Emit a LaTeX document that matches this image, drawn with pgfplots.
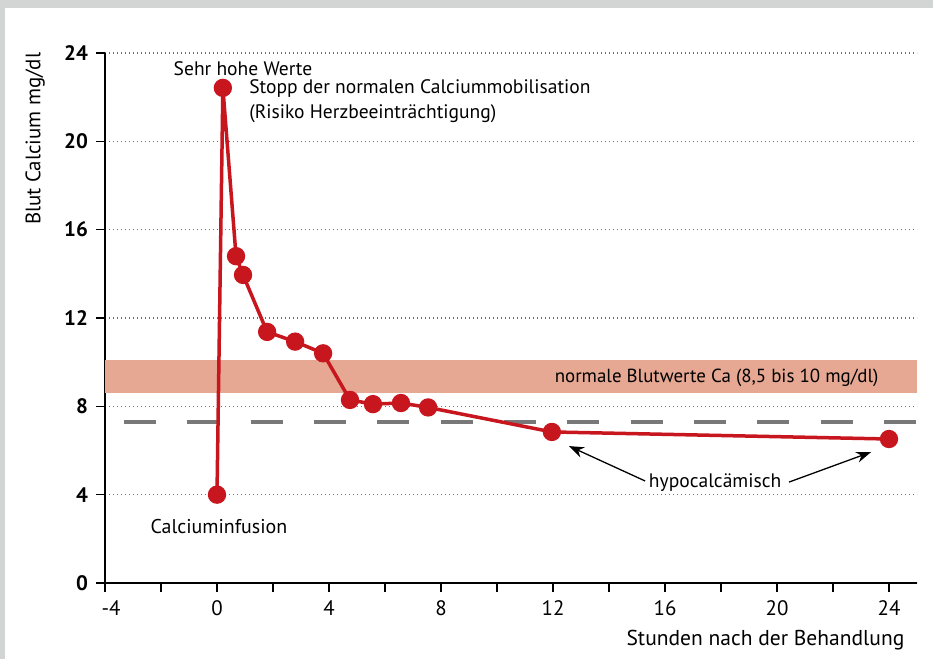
\documentclass[border=0pt]{standalone}
\usepackage{pgfplots}
\pgfplotsset{compat=1.18}
\usepackage{fontspec}
\setmainfont{PT Sans}
\usetikzlibrary{arrows.meta}
\definecolor{cared}{HTML}{C8161E}
\definecolor{band}{HTML}{E6A892}
\definecolor{frame}{HTML}{D3D5D4}
\definecolor{dashgray}{HTML}{787878}
\definecolor{gridgray}{HTML}{707070}
\tikzset{ann/.style={font=\fontsize{9.8}{11}\selectfont, inner sep=0pt}}

\begin{document}
\begin{tikzpicture}
% frame: 1px = 0.5bp, axis origin at pixel (105,583)
\useasboundingbox (-52.5bp,-38bp) rectangle (414bp,291.5bp);
\fill[frame] (-52.5bp,-38bp) rectangle (414bp,291.5bp);
\fill[white] (-50bp,-38bp) rectangle (414bp,287.5bp);
\begin{axis}[
    at={(0,0)}, anchor=south west,
    scale only axis,
    width=406bp, height=265bp,
    xmin=-4, xmax=25, ymin=0, ymax=24,
    axis x line*=bottom, axis y line*=left,
    axis line style={line width=1.2bp, black},
    xtick={-4,0,...,24}, minor xtick={-2,2,...,22},
    xticklabels={\hspace*{6bp}-4,0,4,8,12,16,20,24},
    ytick={0,4,...,24},
    tick align=outside,
    major tick length=4.5bp, minor tick length=4.5bp,
    tick style={black, line width=0.8bp},
    ymajorgrids,
    grid style={gridgray, line width=0.6bp, dash pattern=on 0.6bp off 1.4bp},
    /pgf/number format/assume math mode=true,
    ticklabel style={font=\fontsize{10.5}{12}\selectfont},
    yticklabel style={font=\fontsize{10.5}{12}\selectfont\bfseries, xshift=-0.5bp},
    xticklabel style={yshift=-1bp},
    xlabel={Stunden nach der Behandlung},
    xlabel style={at={(axis description cs:0.985,-0.1075)}, anchor=east, inner sep=0pt,
        font=\fontsize{10.8}{12}\selectfont},
    ylabel={Blut Calcium mg/dl},
    ylabel style={at={(axis description cs:-0.086,0.838)}, anchor=center,
        font=\fontsize{10.5}{12}\selectfont},
    clip=false,
]
% normal range
\addplot[draw=none, fill=band] coordinates {(-4,8.6) (25,8.6) (25,10.1) (-4,10.1)} -- cycle;
% hypocalcaemia threshold
\addplot[dashgray, line width=2bp, dash pattern=on 16bp off 15.67bp, dash phase=22.2bp]
    coordinates {(-4,7.3) (25,7.3)};
% blood calcium
\addplot[cared, line width=1.75bp, mark=*, mark size=3.7bp,
    mark options={fill=cared, draw=none}]
    coordinates {
    (0,4.0) (0.21,22.42) (0.68,14.8) (0.93,13.95) (1.79,11.37) (2.79,10.93)
    (3.79,10.4) (4.75,8.29) (5.57,8.1) (6.57,8.15) (7.54,7.95) (11.96,6.84) (24,6.52)
    };
\node[ann] at (axis cs:0.93,23.3) {Sehr hohe Werte};
\node[ann, anchor=west] at (axis cs:1.14,22.37) {Stopp der normalen Calciummobilisation};
\node[ann, anchor=west] at (axis cs:1.14,21.24) {(Risiko Herzbeeinträchtigung)};
\node[ann, font=\fontsize{10}{11}\selectfont] at (axis cs:0.07,2.54) {Calciuminfusion};
\node[ann, anchor=east, font=\fontsize{9.5}{11}\selectfont] at (axis cs:23.64,9.28) {normale Blutwerte Ca (8,5 bis 10 mg/dl)};
\node[ann] at (axis cs:17.79,4.53) {hypocalcämisch};
\draw[-{Stealth[length=7.5bp,width=5.5bp]}, line width=0.65bp] (axis cs:15.29,4.62) -- (axis cs:12.57,6.2);
\draw[-{Stealth[length=7.5bp,width=5.5bp]}, line width=0.65bp] (axis cs:20.43,4.57) -- (axis cs:23.36,5.93);
\end{axis}
\end{tikzpicture}
\end{document}
